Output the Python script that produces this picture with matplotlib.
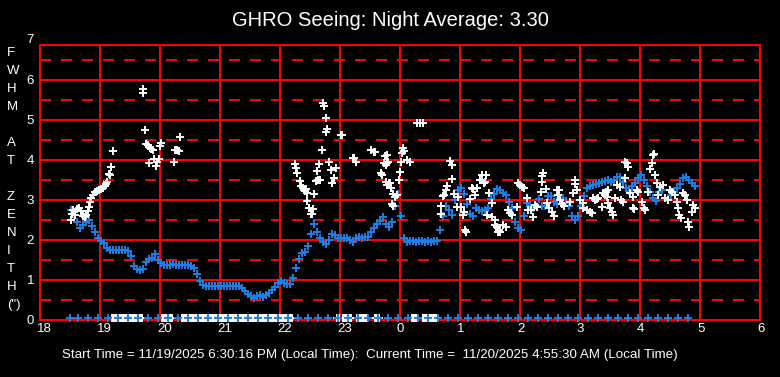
import numpy as np
import matplotlib
matplotlib.use('Agg')
import matplotlib.pyplot as plt

plt.rcParams['font.family'] = ['Liberation Sans', 'DejaVu Sans']
plt.rcParams['lines.scale_dashes'] = False

# ---------------- data (time in minutes after 18:00 local) ----------------
hour_ticks = [18, 19, 20, 21, 22, 23, 24, 25, 26, 27, 28, 29, 30]
hour_labels = ['18', '19', '20', '21', '22', '23', '0', '1', '2', '3', '4', '5', '6']
y_ticks = [0, 1, 2, 3, 4, 5, 6, 7]

# running average (blue)
blue_min = [31, 34, 37, 40, 43, 46, 49, 52, 55, 58,
            61, 64, 67, 70, 73, 76, 79, 82, 85, 88,
            91, 94, 97, 100, 103, 106, 109, 112, 115, 118,
            121, 124, 127, 130, 133, 136, 139, 142, 145, 148,
            151, 154, 157, 160, 163, 166, 169, 172, 175, 178,
            181, 184, 187, 190, 193, 196, 199, 202, 205, 208,
            211, 214, 217, 220, 223, 226, 229, 232, 235, 238,
            241, 244, 247, 250, 253, 256, 259, 262, 265, 268,
            271, 274, 277, 280, 283, 286, 289, 292, 295, 298,
            301, 304, 307, 310, 313, 316, 319, 322, 325, 328,
            331, 334, 337, 340, 343, 346, 349, 352, 355, 358,
            361, 364, 367, 370, 373, 376, 379, 382, 385, 388,
            391, 394, 397, 400, 403, 406, 409, 412, 415, 418,
            421, 424, 427, 430, 433, 436, 439, 442, 445, 448,
            451, 454, 457, 460, 463, 466, 469, 472, 475, 478,
            481, 484, 487, 490, 493, 496, 499, 502, 505, 508,
            511, 514, 517, 520, 523, 526, 529, 532, 535, 538,
            541, 544, 547, 550, 553, 556, 559, 562, 565, 568,
            571, 574, 577, 580, 583, 586, 589, 592, 595, 598,
            601, 604, 607, 610, 613, 616, 619, 622, 625, 628,
            631, 634, 637, 640, 643, 646, 649, 652, 655]
blue_val = [2.75, 2.62, 2.45, 2.30, 2.38, 2.45, 2.50, 2.35, 2.20, 2.05,
            1.97, 1.93, 1.80, 1.76, 1.75, 1.75, 1.75, 1.75, 1.75, 1.73,
            1.60, 1.35, 1.27, 1.25, 1.27, 1.45, 1.52, 1.55, 1.65, 1.50,
            1.42, 1.38, 1.37, 1.38, 1.40, 1.38, 1.37, 1.38, 1.37, 1.38,
            1.36, 1.30, 1.15, 0.97, 0.87, 0.85, 0.84, 0.85, 0.85, 0.85,
            0.85, 0.85, 0.85, 0.85, 0.85, 0.85, 0.84, 0.80, 0.72, 0.66,
            0.60, 0.56, 0.60, 0.62, 0.58, 0.62, 0.68, 0.75, 0.82, 0.92,
            0.98, 0.92, 0.90, 0.90, 1.05, 1.30, 1.52, 1.68, 1.70, 1.85,
            2.15, 2.40, 2.20, 2.05, 1.95, 1.90, 2.00, 2.15, 2.12, 2.05,
            2.05, 2.05, 2.05, 2.00, 1.95, 2.05, 2.08, 2.05, 2.07, 2.08,
            2.20, 2.30, 2.40, 2.47, 2.58, 2.40, 2.33, 2.45, 2.85, 3.15,
            2.60, 2.05, 1.95, 1.97, 1.98, 1.96, 1.97, 1.97, 1.96, 1.97,
            1.96, 1.97, 1.98, 2.25, 2.60, 2.85, 2.75, 2.62, 3.00, 3.25,
            3.30, 3.15, 2.90, 2.65, 2.60, 2.80, 2.75, 2.72, 2.75, 2.80,
            3.02, 3.15, 3.28, 3.25, 3.18, 3.12, 2.95, 2.80, 2.45, 2.30,
            2.25, 2.60, 2.92, 2.88, 2.80, 2.85, 3.02, 2.85, 2.85, 3.10,
            3.10, 2.95, 2.90, 3.05, 3.05, 2.92, 2.85, 2.60, 2.50, 2.60,
            2.85, 3.10, 3.30, 3.35, 3.38, 3.40, 3.42, 3.45, 3.48, 3.50,
            3.45, 3.50, 3.57, 3.57, 3.45, 3.30, 3.22, 3.35, 3.42, 3.55,
            3.62, 3.50, 3.35, 3.20, 3.05, 2.97, 3.20, 3.25, 3.05, 3.02,
            3.12, 3.20, 3.30, 3.40, 3.55, 3.57, 3.50, 3.42, 3.35]

# individual measurements (white)
white_min = [31, 32, 33, 35, 37, 39, 41, 43, 45, 46, 48, 49, 50, 51, 53, 55, 57, 59, 61, 63,
             65, 66, 67, 69, 70, 71, 73,
             103, 103, 105, 106, 108, 110, 111, 113, 109, 114, 116, 117, 119, 120, 121,
             134, 135, 137, 139, 140,
             283, 284, 286, 287, 286, 301, 302, 282, 255, 256, 257, 260, 261, 263, 264, 265,
             266, 267, 267, 269, 271, 272, 273, 274, 276, 278, 280, 277, 279, 289, 291, 292,
             294, 296, 313, 314, 316, 331, 334, 335, 345, 344, 348, 341, 342, 349,
             377, 380, 383, 363, 364, 362, 367, 370, 361, 347, 347, 346, 360, 359, 350, 351,
             357, 352, 353, 346, 347, 353, 355,
             410, 412, 412, 407, 406, 403, 404, 401, 401, 414, 417, 418, 421, 423, 425, 426,
             430, 432, 433, 435, 437, 440, 442, 446, 444, 445, 449, 452, 452, 455, 458, 447, 424,
             455, 457, 459, 460, 463, 466, 468, 470, 472, 477, 478, 480, 482, 484, 487, 488,
             491, 493, 495, 497, 501, 502, 503, 502, 506, 507, 509, 512, 514, 517, 519, 518,
             520, 522, 524, 530, 533, 535, 535, 537, 540, 543, 543, 547, 550, 552, 553, 555,
             557, 558, 562, 563, 565, 567, 568,
             566, 568, 570, 572, 573, 575, 577, 580, 581, 583, 585, 587, 588, 585, 590, 593,
             593, 594, 597, 598, 602, 604, 605, 608, 610, 612, 613, 614, 615, 617, 620, 618,
             623, 625, 628, 630, 632, 635, 637, 638, 639, 641, 643, 645, 647, 648, 649, 652,
             653, 655]
white_val = [2.50, 2.65, 2.75, 2.62, 2.78, 2.80, 2.72, 2.60, 2.57, 2.62, 2.72, 2.83, 2.95, 3.05, 3.12, 3.20, 3.22, 3.25, 3.27, 3.30,
             3.35, 3.40, 3.45, 3.65, 3.62, 3.82, 4.22,
             5.77, 5.68, 4.75, 4.40, 4.37, 4.29, 4.27, 4.25, 3.92, 4.02, 3.85, 3.96, 4.02, 4.35, 4.42,
             3.94, 4.24, 4.25, 4.22, 4.57,
             5.42, 5.36, 5.04, 4.77, 4.69, 4.62, 4.62, 4.25, 3.89, 3.79, 3.68, 3.48, 3.35, 3.30, 3.25, 3.22,
             3.28, 3.17, 2.97, 2.79, 2.64, 2.66, 2.77, 3.14, 3.48, 3.50, 3.50, 3.72, 3.89, 3.94, 3.75, 3.43,
             3.56, 3.79, 4.04, 4.06, 3.94, 4.25, 4.21, 4.19, 4.11, 3.92, 3.96, 3.67, 3.62, 3.42,
             4.92, 4.92, 4.92, 4.31, 4.22, 4.18, 4.00, 3.96, 3.96, 4.12, 3.92, 3.87, 3.69, 3.50, 3.42, 3.29,
             3.12, 2.90, 2.85, 3.45, 3.38, 3.15, 3.08,
             3.97, 3.87, 3.52, 3.35, 3.25, 3.10, 3.13, 2.85, 2.64, 3.14, 2.83, 3.07, 2.83, 2.62, 2.25, 2.20,
             3.02, 3.29, 3.27, 3.12, 3.29, 3.50, 3.62, 3.62, 3.42, 3.44, 3.17, 2.93, 2.58, 2.37, 2.21, 2.62, 2.70,
             2.50, 2.33, 2.25, 2.20, 2.37, 2.33, 2.75, 2.68, 2.62, 2.83, 3.42, 3.38, 3.33, 3.30, 3.04, 2.75,
             2.75, 2.57, 2.87, 2.83, 3.19, 3.46, 3.68, 3.61, 3.27, 2.92, 2.80, 2.70, 2.60, 3.25, 3.25, 3.12,
             3.00, 2.90, 2.85, 2.96, 3.17, 3.50, 3.40, 3.25, 3.00, 2.92, 2.80, 2.75, 2.70, 2.67, 3.04, 3.00,
             3.02, 3.04, 2.83, 3.17, 3.12, 3.08, 3.25,
             3.20, 2.92, 2.80, 2.70, 2.62, 3.04, 3.37, 3.33, 3.00, 2.96, 3.96, 3.92, 3.83, 3.54, 3.17, 3.08,
             2.79, 2.77, 3.25, 3.20, 2.96, 2.80, 2.75, 3.21, 3.77, 3.92, 4.12, 4.15, 3.62, 3.42, 3.33, 3.12,
             3.37, 3.04, 3.00, 3.25, 3.20, 3.12, 2.96, 2.79, 2.62, 2.55, 3.17, 3.12, 3.00, 2.46, 2.33, 2.71,
             2.87, 2.79]

# failed measurements plotted on the floor (white) and timestamp markers (blue)
white_zero_min = [72, 74, 76, 78, 80, 82, 84, 86, 88, 90, 92, 94, 96, 98, 100, 102,
                  122, 124, 126, 128, 130, 132,
                  142, 144, 146, 148, 150, 152, 154, 156, 158, 160, 162, 164, 166, 168, 170,
                  172, 174, 176, 178, 180, 182, 184, 186, 188, 190, 192, 194, 196, 198, 200,
                  202, 204, 206, 208, 210, 212, 214, 216, 218, 220, 222, 224, 226, 228, 230,
                  232, 234, 236, 238, 240, 242, 244, 246, 248, 250, 252,
                  297, 299, 303, 305, 307, 309, 311, 317, 319, 321, 323, 325, 327,
                  335, 337, 339, 372, 374, 376, 383, 385, 387, 389, 391, 393, 395, 397]
blue_zero_min = [30, 38, 48, 58, 68, 78, 88, 98, 108, 118, 128, 138, 148, 158, 168, 178,
                 188, 198, 208, 218, 228, 238, 248, 258, 268, 278, 288, 298, 308, 318, 328,
                 338, 348, 358, 368, 378, 388, 398, 408, 418, 428, 438, 448, 458, 468, 478,
                 488, 498, 508, 518, 528, 538, 548, 558, 568, 578, 588, 598, 608, 618, 628,
                 638, 648]
floor_val = 0.06

title = 'GHRO Seeing: Night Average: 3.30'
ylabel_letters = ['F', 'W', 'H', 'M', '', 'A', 'T', '', 'Z', 'E', 'N', 'I', 'T', 'H', '(")']
footer = ('Start Time = 11/19/2025 6:30:16 PM (Local Time):  Current Time =  '
          '11/20/2025 4:55:30 AM (Local Time)')

# ---------------- figure ----------------
W, H = 780, 377
fig = plt.figure(figsize=(W / 100, H / 100), dpi=100, facecolor='black')
ax = fig.add_axes([40 / W, 57 / H, 720 / W, 275 / H])
ax.set_facecolor('black')
ax.set_xlim(18, 30)
ax.set_ylim(0, 6.875)

RED = '#FF0000'
LW = 1.44
for y in range(1, 7):
    ax.axhline(y, color=RED, lw=LW, zorder=1, antialiased=False)
for y in np.arange(0.5, 7, 1.0):
    ax.axhline(y, color=RED, lw=LW, ls=(0, (7.2, 7.2)), zorder=1, antialiased=False)
for x in range(19, 30):
    ax.axvline(x, color=RED, lw=LW, zorder=1, antialiased=False)
for s in ax.spines.values():
    s.set_color(RED)
    s.set_linewidth(LW)
    s.set_zorder(1)
    s.set_antialiased(False)

def hrs(mins):
    return 18 + np.asarray(mins, dtype=float) / 60.0

BLUE = '#1E7FE8'
mk = dict(ls='none', marker='+', ms=5.5, mew=1.4, antialiased=False)
ax.plot(hrs(blue_min), blue_val, color=BLUE, zorder=2, **mk)
ax.plot(hrs(white_min), white_val, color='white', zorder=3, **mk)
ax.plot(hrs(white_zero_min), [floor_val] * len(white_zero_min), color='white',
        zorder=4, clip_on=False, **mk)
ax.plot(hrs(blue_zero_min), [floor_val] * len(blue_zero_min), color=BLUE,
        zorder=5, clip_on=False, **mk)

# ticks
ax.set_xticks([])
ax.set_yticks(y_ticks[:-1])
ax.set_yticklabels([str(v) for v in y_ticks[:-1]])
ax.tick_params(axis='y', length=0, pad=4.3, labelcolor='white', labelsize=9.5)
ax.annotate(str(y_ticks[-1]), xy=(0, y_ticks[-1]), xycoords=('axes fraction', 'data'),
            xytext=(-4.3, 0), textcoords='offset points', ha='right', va='center',
            color='white', fontsize=9.5, annotation_clip=False)
for xv, lab in zip(hour_ticks, hour_labels):
    ax.annotate(lab, xy=(xv, 0), xycoords=('data', 'axes fraction'),
                xytext=(-2.2, -2.0), textcoords='offset points', ha='left', va='top',
                color='white', fontsize=9.5, annotation_clip=False)

# vertical stacked y label
for i, ch in enumerate(ylabel_letters):
    if ch:
        fig.text(7 / W, 1 - (53 + 18 * i) / H, ch, ha='left', va='center',
                 color='white', fontsize=9.5)

fig.text(0.5, 1 - 20 / H, title, ha='center', va='center', color='white', fontsize=14.5)
fig.text(370 / W, 1 - 355 / H, footer, ha='center', va='center', color='white', fontsize=9.6)

fig.savefig('out.png', dpi=100, facecolor='black')
